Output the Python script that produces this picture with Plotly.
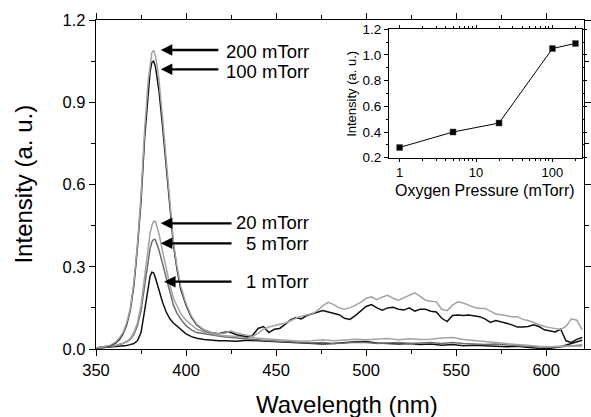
import plotly.graph_objects as go

# ---------------- data ----------------
wl_peak = [350, 354, 358, 361, 363, 365, 367, 369, 371, 373, 375, 377, 379, 380, 381,
           382, 383, 384, 385, 387, 389, 391, 393, 395, 397, 400, 403, 406, 410, 414, 418]

wl_fine = [422, 425, 428, 431, 434, 437, 440, 443, 446, 449, 452, 455, 458, 461, 464,
           467, 470, 473, 476, 479, 482, 485, 488, 491, 494, 497, 500, 503, 506, 509,
           512, 515, 518, 521, 524, 527, 530, 533, 536, 539, 542, 545, 548, 551, 554,
           557, 560, 563, 566, 569, 572, 575, 578, 581, 584, 587, 590, 593, 596, 599,
           602, 605, 608, 611, 614, 617, 620]

wl_coarse = [422, 428, 434, 440, 446, 452, 458, 464, 470, 476, 482, 488, 494, 500, 506,
             512, 518, 524, 530, 536, 542, 548, 554, 560, 566, 572, 578, 584, 590, 596,
             602, 608, 614, 620]

p200_peak = [0.005, 0.008, 0.014, 0.026, 0.040, 0.060, 0.095, 0.145, 0.24, 0.38, 0.56, 0.80, 0.98, 1.04, 1.08,
             1.09, 1.07, 1.03, 0.98, 0.84, 0.68, 0.52, 0.39, 0.30, 0.23, 0.165, 0.12, 0.09, 0.07, 0.06, 0.055]
p100_peak = [0.004, 0.007, 0.012, 0.022, 0.035, 0.055, 0.088, 0.14, 0.23, 0.37, 0.54, 0.77, 0.95, 1.01, 1.045,
             1.05, 1.03, 0.99, 0.94, 0.81, 0.66, 0.505, 0.38, 0.29, 0.22, 0.16, 0.115, 0.088, 0.068, 0.06, 0.056]
p20_peak = [0.004, 0.006, 0.01, 0.014, 0.017, 0.021, 0.028, 0.038, 0.06, 0.095, 0.16, 0.27, 0.38, 0.42, 0.45,
            0.466, 0.465, 0.445, 0.42, 0.355, 0.29, 0.235, 0.185, 0.155, 0.13, 0.105, 0.087, 0.072, 0.062, 0.055, 0.05]
p5_peak = [0.004, 0.006, 0.009, 0.013, 0.016, 0.02, 0.026, 0.035, 0.052, 0.085, 0.14, 0.23, 0.33, 0.365, 0.39,
           0.40, 0.398, 0.38, 0.36, 0.31, 0.26, 0.205, 0.16, 0.13, 0.11, 0.085, 0.07, 0.06, 0.055, 0.051, 0.047]
p1_peak = [0.003, 0.005, 0.007, 0.009, 0.011, 0.012, 0.013, 0.016, 0.02, 0.03, 0.06, 0.14, 0.23, 0.265, 0.28,
           0.278, 0.26, 0.235, 0.215, 0.17, 0.135, 0.11, 0.095, 0.083, 0.072, 0.055, 0.045, 0.039, 0.035, 0.032, 0.03]

p200_tail = [0.058, 0.066, 0.058, 0.054, 0.050, 0.046, 0.058, 0.072, 0.080, 0.086, 0.090, 0.094, 0.104, 0.112, 0.120,
             0.125, 0.128, 0.140, 0.158, 0.170, 0.162, 0.150, 0.145, 0.150, 0.160, 0.170, 0.185, 0.190, 0.180, 0.190,
             0.196, 0.185, 0.178, 0.188, 0.195, 0.205, 0.192, 0.178, 0.174, 0.172, 0.145, 0.140, 0.160, 0.172, 0.168,
             0.160, 0.152, 0.148, 0.148, 0.138, 0.128, 0.125, 0.122, 0.118, 0.118, 0.108, 0.104, 0.096, 0.090, 0.082,
             0.078, 0.074, 0.071, 0.082, 0.110, 0.105, 0.070]
p100_tail = [0.062, 0.060, 0.052, 0.048, 0.045, 0.050, 0.075, 0.082, 0.060, 0.072, 0.075, 0.090, 0.106, 0.115, 0.110,
             0.122, 0.128, 0.136, 0.140, 0.135, 0.130, 0.125, 0.112, 0.108, 0.122, 0.138, 0.155, 0.162, 0.150, 0.142,
             0.150, 0.152, 0.145, 0.142, 0.150, 0.138, 0.145, 0.145, 0.138, 0.135, 0.112, 0.100, 0.122, 0.124, 0.122,
             0.124, 0.122, 0.118, 0.110, 0.097, 0.104, 0.100, 0.094, 0.088, 0.080, 0.080, 0.082, 0.088, 0.082, 0.070,
             0.066, 0.062, 0.073, 0.030, 0.024, 0.035, 0.042]
p20_tail = [0.048, 0.045, 0.042, 0.038, 0.036, 0.034, 0.030, 0.028, 0.030, 0.034, 0.030, 0.032, 0.036, 0.034, 0.036,
            0.038, 0.034, 0.037, 0.035, 0.036, 0.040, 0.042, 0.035, 0.032, 0.028, 0.024, 0.020, 0.016, 0.014, 0.010,
            0.008, 0.010, 0.012, 0.010]
p5_tail = [0.044, 0.040, 0.036, 0.032, 0.030, 0.028, 0.026, 0.024, 0.022, 0.024, 0.020, 0.022, 0.025, 0.024, 0.020,
           0.022, 0.024, 0.020, 0.022, 0.024, 0.020, 0.024, 0.020, 0.018, 0.016, 0.018, 0.014, 0.012, 0.010, 0.008,
           0.006, 0.008, 0.012, 0.015]
p1_tail = [0.030, 0.028, 0.032, 0.030, 0.027, 0.026, 0.024, 0.022, 0.020, 0.018, 0.020, 0.024, 0.026, 0.027, 0.022,
           0.020, 0.018, 0.020, 0.016, 0.018, 0.014, 0.016, 0.012, 0.014, 0.012, 0.010, 0.008, 0.010, 0.006, 0.002,
           0.002, 0.008, 0.020, 0.032]

pressures = [1, 5, 20, 100, 200]
peak_intensity = [0.28, 0.40, 0.47, 1.05, 1.09]
labels = ["200 mTorr", "100 mTorr", "20 mTorr", "5 mTorr", "1 mTorr"]

# ---------------- figure ----------------
FONT = "Liberation Sans, Arial, sans-serif"
LIGHT = "#a3a3a3"
MID = "#6e6e6e"
DARK = "#111111"

fig = go.Figure()
series = [
    (p1_peak + p1_tail, wl_peak + wl_coarse, DARK),
    (p5_peak + p5_tail, wl_peak + wl_coarse, MID),
    (p20_peak + p20_tail, wl_peak + wl_coarse, LIGHT),
    (p100_peak + p100_tail, wl_peak + wl_fine, DARK),
    (p200_peak + p200_tail, wl_peak + wl_fine, LIGHT),
]
for ys, xs, col in series:
    fig.add_trace(go.Scatter(x=xs, y=ys, mode="lines", line=dict(color=col, width=1.5),
                             showlegend=False, hoverinfo="skip"))

fig.add_trace(go.Scatter(x=pressures, y=peak_intensity, mode="lines+markers",
                         line=dict(color="black", width=1),
                         marker=dict(symbol="square", size=6, color="black",
                                     line=dict(color="#555", width=0.5)),
                         xaxis="x2", yaxis="y2", showlegend=False))

L, R, T, B = 96, 591, 20, 349
W, H = R - L, B - T

def px(xp):
    return (xp - L) / W

def py(yp):
    return (B - yp) / H

axis_common = dict(showline=True, linecolor="black", linewidth=1.3, mirror="ticks",
                   ticks="outside", ticklen=6, tickwidth=1.3, tickcolor="black",
                   showgrid=False, zeroline=False,
                   tickfont=dict(family=FONT, size=16.5, color="black"))

fig.update_layout(
    width=591, height=417,
    margin=dict(l=L, r=591 - R, t=T, b=417 - B),
    paper_bgcolor="white", plot_bgcolor="white",
    xaxis=dict(range=[350, 621], dtick=50, tick0=350,
               minor=dict(dtick=25, ticklen=3.5, ticks="outside", tickcolor="black", tickwidth=1.2),
               **axis_common),
    yaxis=dict(range=[0, 1.2], dtick=0.3, tick0=0, tickformat=".1f",
               minor=dict(dtick=0.15, ticklen=3.5, ticks="outside", tickcolor="black", tickwidth=1.2),
               **axis_common),
    xaxis2=dict(domain=[px(393.3), px(589.3)], anchor="y2", type="log",
                range=[-0.138, 2.391], tickvals=[1, 10, 100], ticktext=["1", "10", "100"],
                showline=True, linecolor="black", linewidth=1, mirror="ticks",
                ticks="outside", ticklen=3, tickcolor="black",
                minor=dict(ticks="outside", ticklen=2, tickcolor="black",
                           tickvals=[2, 3, 4, 5, 6, 7, 8, 9, 20, 30, 40, 50, 60, 70, 80, 90, 200]),
                showgrid=False, zeroline=False,
                tickfont=dict(family=FONT, size=13, color="black")),
    yaxis2=dict(domain=[py(157.7), py(29.3)], anchor="x2", range=[0.2, 1.2],
                dtick=0.2, tick0=0.2, tickformat=".1f",
                showline=True, linecolor="black", linewidth=1, mirror="ticks",
                ticks="outside", ticklen=4, tickcolor="black",
                minor=dict(dtick=0.1, ticks="outside", ticklen=2, tickcolor="black"),
                showgrid=False, zeroline=False,
                tickfont=dict(family=FONT, size=13.5, color="black")),
)

annotations = []
# axis titles
annotations.append(dict(text="Wavelength (nm)", xref="paper", yref="paper",
                        x=px(350.5), y=py(404), xanchor="center", yanchor="middle",
                        showarrow=False, font=dict(family=FONT, size=24, color="black")))
annotations.append(dict(text="Intensity (a. u.)", xref="paper", yref="paper",
                        x=px(22), y=py(184.5), xanchor="center", yanchor="middle",
                        textangle=-90, showarrow=False,
                        font=dict(family=FONT, size=24, color="black")))
annotations.append(dict(text="Oxygen Pressure (mTorr)", xref="paper", yref="paper",
                        x=px(491), y=py(190), xanchor="center", yanchor="middle",
                        showarrow=False, font=dict(family=FONT, size=16, color="black")))
annotations.append(dict(text="Intensity (a. u.)", xref="paper", yref="paper",
                        x=px(355), y=py(93.5), xanchor="center", yanchor="middle",
                        textangle=-90, showarrow=False,
                        font=dict(family=FONT, size=13, color="black")))

# arrows: (label, tip wavelength, tip intensity, tail wavelength, text intensity)
arrow_specs = [
    (labels[0], 386.0, 1.0906, 418.8, 1.084),
    (labels[1], 386.0, 1.020, 418.8, 1.011),
    (labels[2], 386.0, 0.4585, 426.1, 0.461),
    (labels[3], 386.0, 0.3855, 426.1, 0.386),
    (labels[4], 387.8, 0.2455, 426.1, 0.245),
]
for lab, xt, yt, xtail, ytext in arrow_specs:
    annotations.append(dict(x=xt, y=yt, ax=xtail, ay=yt, xref="x", yref="y",
                            axref="x", ayref="y", text="", showarrow=True,
                            arrowhead=2, arrowsize=1, arrowwidth=2.3, arrowcolor="black",
                            standoff=0, startstandoff=0))
    annotations.append(dict(x=469.3, y=ytext, xref="x", yref="y", text=lab,
                            xanchor="right", yanchor="middle", showarrow=False,
                            font=dict(family=FONT, size=18.5, color="black")))

fig.update_layout(annotations=annotations)
fig.write_html("out.html")
